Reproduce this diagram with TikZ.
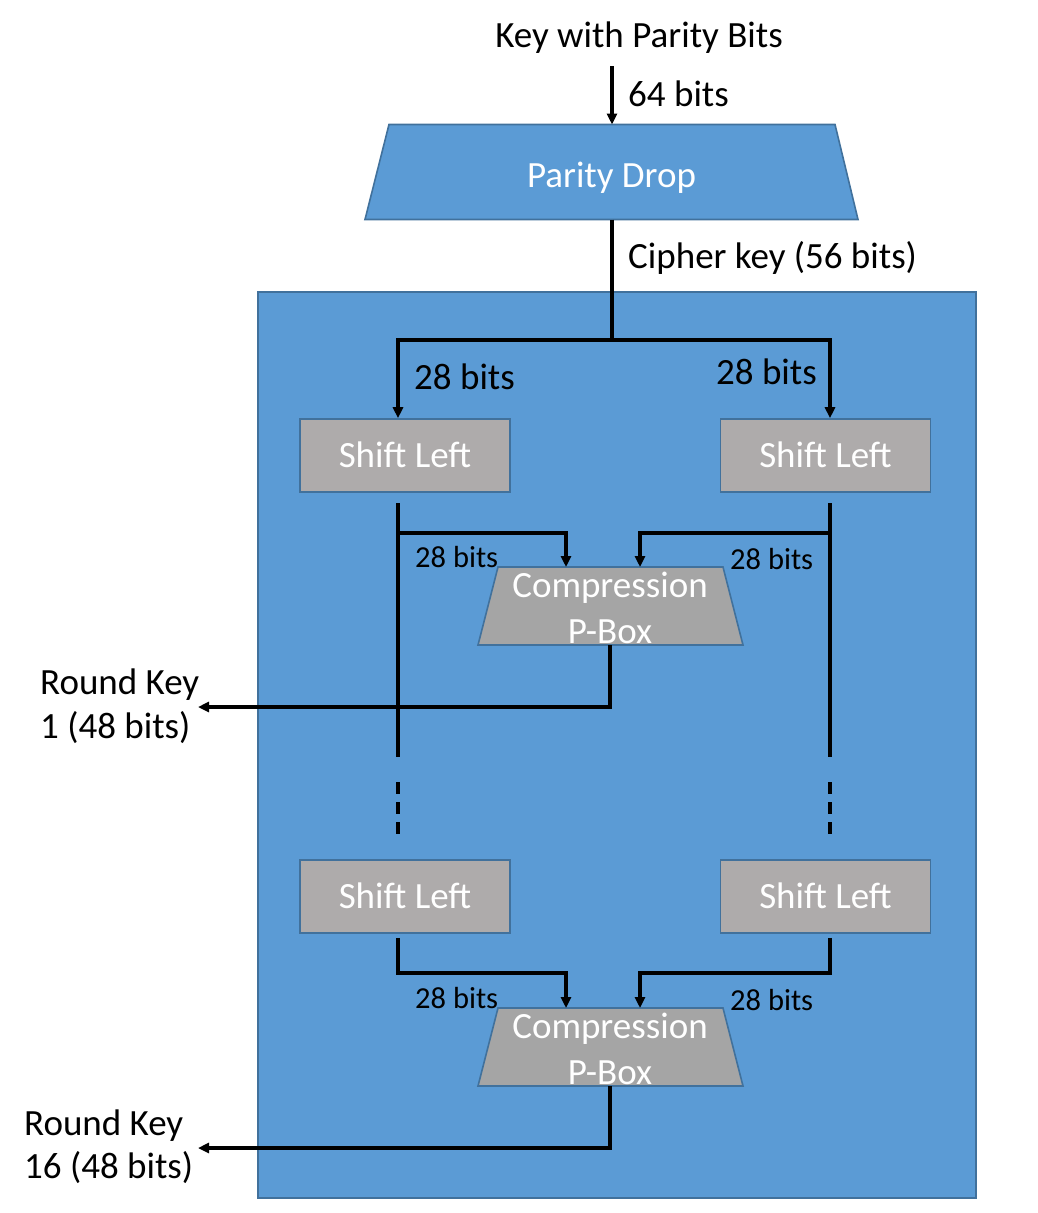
\documentclass[tikz,border=0pt]{standalone}
\usepackage{fontspec}
\setmainfont{Carlito}
\usetikzlibrary{arrows.meta}
\definecolor{bluef}{HTML}{5B9BD5}
\definecolor{blued}{HTML}{41719C}
\definecolor{grayf}{HTML}{AEABAB}
\definecolor{grayc}{HTML}{A5A5A5}
\tikzset{
  ln/.style={line width=3.8pt, black},
  arr/.style={ln, -{Triangle[length=11pt,width=10pt]}},
  big/.style={font=\fontsize{37}{42}\selectfont, inner sep=0pt},
  small/.style={font=\fontsize{30.5}{34}\selectfont, inner sep=0pt},
  shiftbox/.style={draw=blued, line width=1.6pt, fill=grayf, minimum width=210pt, minimum height=73pt,
    text=white, font=\fontsize{37}{42}\selectfont, text height=24pt, text depth=0pt, inner sep=0pt},
  bluetrap/.style={draw=blued, line width=1.6pt, fill=bluef},
  graytrap/.style={draw=blued, line width=1.6pt, fill=grayc},
  holder/.style={inner sep=0pt, outer sep=0pt},
  wtxt/.style={big, text=white},
}
\begin{document}
\begin{tikzpicture}[x=1pt,y=-1pt]
\useasboundingbox (0,0) rectangle (1038,1213);
% key schedule frame
\node[draw=blued, line width=1.6pt, fill=bluef, minimum width=718pt, minimum height=906pt, inner sep=0pt] (frame) at (617,745) {};
% top
\node[big, anchor=base] (keytxt) at (639,47) {Key with Parity Bits};
\draw[bluetrap] (389,124.5) -- (835,124.5) -- (858,219.5) -- (365,219.5) -- cycle;
\node[holder, minimum width=493pt, minimum height=95pt, text=white, font=\fontsize{37}{42}\selectfont,
  text height=30pt, text depth=0pt] (pd) at (611.5,172) {Parity Drop};
\coordinate (kin) at (612,66);
\draw[arr] (kin) -- (pd.north -| kin);
\node[big, anchor=base west] (b64) at (628,106) {64 bits};
\coordinate (split) at (612,340);
\draw[ln] (pd.south -| split) -- (split);
\node[big, anchor=base west] (ck) at (628,268) {Cipher key (56 bits)};
% shift boxes
\node[shiftbox] (sl1) at (405,455.5) {Shift Left};
\node[shiftbox] (sr1) at (825.5,455.5) {Shift Left};
\node[shiftbox] (sl2) at (405,896.5) {Shift Left};
\node[shiftbox] (sr2) at (825.5,896.5) {Shift Left};
\draw[arr] (split) -- (398,340) -- (sl1.north -| 398,0);
\draw[arr] (split) -- (830,340) -- (sr1.north -| 830,0);
\node[big, anchor=base west] (l28a) at (414,389) {28 bits};
\node[big, anchor=base east] (r28a) at (817,384) {28 bits};
% compression boxes
\draw[graytrap] (498,567) -- (723,567) -- (743,645) -- (478,645) -- cycle;
\draw[graytrap] (498,1008) -- (723,1008) -- (743,1086) -- (478,1086) -- cycle;
\node[holder, minimum width=265pt, minimum height=78pt] (cp1) at (610.5,606) {};
\node[holder, minimum width=265pt, minimum height=78pt] (cp2) at (610.5,1047) {};
\node[wtxt, anchor=base] (cp1a) at (610,597) {Compression};
\node[wtxt, anchor=base] (cp1b) at (610,643) {P-Box};
\node[wtxt, anchor=base] (cp2a) at (610,1038) {Compression};
\node[wtxt, anchor=base] (cp2b) at (610,1084) {P-Box};
% round 1 wiring
\coordinate (l1s) at (398,503);
\coordinate (r1s) at (830,503);
\draw[ln] (l1s) -- (398,757);
\draw[ln] (r1s) -- (830,757);
\draw[arr] (398,533) -- (566,533) -- (cp1.north -| 566,0);
\draw[arr] (830,533) -- (640,533) -- (cp1.north -| 640,0);
\node[small, anchor=base west] (l28b) at (415,567) {28 bits};
\node[small, anchor=base west] (r28b) at (730,569) {28 bits};
\coordinate (rk1) at (198,707);
\draw[arr] (cp1.south -| 610,0) -- (610,707) -- (rk1);
\node[big, anchor=base west] (rk1a) at (40,694) {Round Key};
\node[big, anchor=base west] (rk1b) at (40,738) {1 (48 bits)};
% dashed continuation
\draw[ln, dash pattern=on 12pt off 8pt] (398,782) -- (398,838);
\draw[ln, dash pattern=on 12pt off 8pt] (830,782) -- (830,838);
% round 16 wiring
\draw[arr] (sl2.south -| 398,0) ++(0,4) -- (398,973) -- (566,973) -- (cp2.north -| 566,0);
\draw[arr] (sr2.south -| 830,0) ++(0,4) -- (830,973) -- (640,973) -- (cp2.north -| 640,0);
\node[small, anchor=base west] (l28c) at (415,1008) {28 bits};
\node[small, anchor=base west] (r28c) at (730,1010) {28 bits};
\coordinate (rk16) at (198,1148);
\draw[arr] (cp2.south -| 610,0) -- (610,1148) -- (rk16);
\node[big, anchor=base west] (rk2a) at (24,1135) {Round Key};
\node[big, anchor=base west] (rk2b) at (24,1178) {16 (48 bits)};
\end{tikzpicture}
\end{document}
